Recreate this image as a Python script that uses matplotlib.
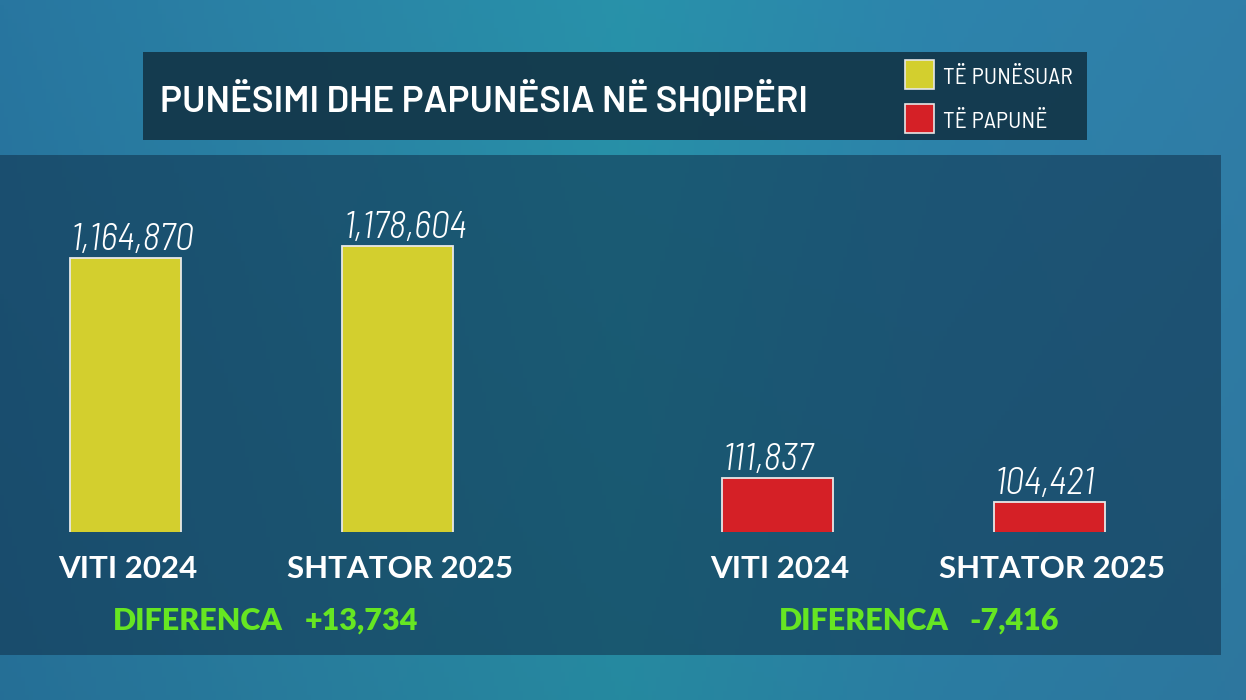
import numpy as np
import matplotlib
matplotlib.use("Agg")
import matplotlib.pyplot as plt
from matplotlib.patches import Rectangle

# ---- data ----
categories = ["VITI 2024", "SHTATOR 2025"]
employed = [1164870, 1178604]
unemployed = [111837, 104421]
title = "PUNËSIMI DHE PAPUNËSIA NË SHQIPËRI"
legend_labels = ["TË PUNËSUAR", "TË PAPUNË"]
diff_label = "DIFERENCA"

YELLOW = "#d3cf2e"
RED = "#d52026"
GREEN = "#66e622"
W, H = 1246, 700

fig = plt.figure(figsize=(W / 100, H / 100), dpi=100)

# ---- background (pixel coordinate canvas) ----
bg = fig.add_axes([0, 0, 1, 1])
bg.set_xlim(0, W)
bg.set_ylim(H, 0)
bg.axis("off")
xs = np.linspace(0, 1, 300)
stops_x = [0.0, 0.25, 0.5, 0.75, 1.0]
stops_c = np.array([[40, 118, 160], [42, 132, 166], [40, 146, 170],
                    [45, 132, 172], [48, 126, 168]]) / 255.0
row = np.stack([np.interp(xs, stops_x, stops_c[:, k]) for k in range(3)], axis=-1)
ys = np.linspace(0, 1, 150)[:, None, None]
img = row[None, :, :] * (1.0 - 0.06 * ys)
bg.imshow(img, extent=[0, W, H, 0], aspect="auto", zorder=0)

# main dark panel
bg.add_patch(Rectangle((0, 155), 1221, 500, facecolor=(16 / 255, 48 / 255, 74 / 255),
                       alpha=0.55, edgecolor="none", zorder=1))
# title box
bg.add_patch(Rectangle((143, 52), 944, 88, facecolor=(18 / 255, 52 / 255, 70 / 255),
                       alpha=0.9, edgecolor="none", zorder=2))
bg.text(160, 112, title, color="white", fontsize=26.5, fontweight=600,
        family="Barlow", ha="left", va="baseline", zorder=3)

# legend
leg_colors = [YELLOW, RED]
leg_y = [60, 104]
for lab, col, y0 in zip(legend_labels, leg_colors, leg_y):
    bg.add_patch(Rectangle((905, y0), 29, 29, facecolor=col, edgecolor="#e6e6e6",
                           linewidth=1.2, zorder=3))
    bg.text(943, y0 + 24, lab, color="white", fontsize=17,
            family="Barlow Semi Condensed", ha="left", va="baseline", zorder=3)

# ---- bar groups ----
def bar_group(left_px, spacing_px, values, color, ylo, yhi):
    ax = fig.add_axes([(left_px) / W, (H - 532) / H, 1.8 * spacing_px / W, 372 / H])
    ax.set_facecolor("none")
    pos = np.arange(len(values))
    width = 111 / spacing_px
    ax.bar(pos, values, width=width, color=color, edgecolor="#e8e8e8", linewidth=1.3,
           zorder=3)
    ax.set_xlim(-0.4, 1.4)
    ax.set_ylim(ylo, yhi)
    ax.axis("off")
    for p, v in zip(pos, values):
        ax.annotate(f"{v:,}", xy=(p - width / 2, v), xytext=(1, 8),
                    textcoords="offset pixels", ha="left", va="baseline",
                    color="white", fontsize=27.5, fontstyle="italic", fontweight=300,
                    family="Barlow Semi Condensed", annotation_clip=False)
    for p, c in zip(pos, categories):
        ax.annotate(c, xy=(p, ylo), xytext=(3, -46), textcoords="offset pixels",
                    ha="center", va="baseline", color="white", fontsize=22.5,
                    fontweight="bold", family="Lato", annotation_clip=False)
    return ax

axL = bar_group(125 - 0.4 * 272.5, 272.5, employed, YELLOW, 851277, 1277031)
axR = bar_group(777 - 0.4 * 272, 272, unemployed, RED, 95151, 210099)

# differences
d_emp = employed[1] - employed[0]
d_unemp = unemployed[1] - unemployed[0]
for x_lab, x_val, d in [(113, 305, d_emp), (779, 969, d_unemp)]:
    bg.text(x_lab, 630, diff_label, color=GREEN, fontsize=22, fontweight=800,
            family="Lato", ha="left", va="baseline", zorder=3)
    bg.text(x_val, 630, f"{d:+,}", color=GREEN, fontsize=22, fontweight=800,
            family="Lato", ha="left", va="baseline", zorder=3)

fig.savefig("out.png", dpi=100)
